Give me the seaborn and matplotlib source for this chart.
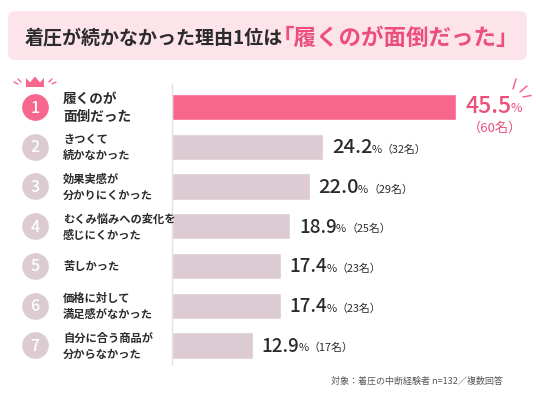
import matplotlib
matplotlib.use('Agg')
import matplotlib.pyplot as plt
import matplotlib.transforms as mtransforms
from matplotlib.patches import FancyBboxPatch, Polygon
from matplotlib.lines import Line2D
import seaborn as sns
import pandas as pd

# === DATA ===
RANKS = ['1', '2', '3', '4', '5', '6', '7']
REASONS = ['履くのが\n面倒だった', 'きつくて\n続かなかった', '効果実感が\n分かりにくかった',
           'むくみ悩みへの変化を\n感じにくかった', '苦しかった', '価格に対して\n満足感がなかった',
           '自分に合う商品が\n分からなかった']
PERCENT = [45.5, 24.2, 22.0, 18.9, 17.4, 17.4, 12.9]
COUNTS = [60, 32, 29, 25, 23, 23, 17]
TITLE_DARK = '着圧が続かなかった理由1位は'
TITLE_PINK = '「履くのが面倒だった」'
NOTE = '対象：着圧の中断経験者 n=132／複数回答'

PINK = '#f7668c'
PINK_TXT = '#ec4f7c'
MAUVE = '#dccbd2'
DARK = '#2b2b2b'

sns.set_style('white')
plt.rcParams['font.family'] = ['Noto Sans CJK JP', 'DejaVu Sans']

W, H = 536, 402
fig = plt.figure(figsize=(W / 100, H / 100), dpi=100)
fig.patch.set_facecolor('white')

# axes area in pixels: x 172..536, y 85..365
ax = fig.add_axes([172 / W, 1 - 365 / H, (W - 172) / W, 280 / H])
df = pd.DataFrame({'reason': REASONS, 'pct': PERCENT})
colors = [PINK] + [MAUVE] * (len(REASONS) - 1)
sns.barplot(data=df, y='reason', x='pct', hue='reason', palette=colors,
            legend=False, width=0.66, ax=ax, saturation=1, orient='h')
ax.set_xlim(0, (W - 172) / 6.25)
ax.set_ylim(6.468, -0.579)
ax.set_xlabel('')
ax.set_ylabel('')
ax.set_xticks([])
ax.set_yticks([])
for s in ['top', 'right', 'bottom']:
    ax.spines[s].set_visible(False)
ax.spines['left'].set_color('#e2e2e2')
ax.spines['left'].set_linewidth(1.0)
ax.patch.set_alpha(0)

# left side: rank circles + labels (x in pixels, y in data)
blend = mtransforms.blended_transform_factory(
    mtransforms.Affine2D().scale(1 / W, 1 / H) + fig.transFigure, ax.transData)
for i, (rk, rs) in enumerate(zip(RANKS, REASONS)):
    ax.scatter([35], [i], s=370, color=PINK if i == 0 else MAUVE,
               transform=blend, clip_on=False, zorder=5, linewidths=0)
    ax.text(35, i, rk, transform=blend, ha='center', va='center',
            color='white', fontsize=11.5, fontweight='medium', zorder=6)
    ax.text(63, i, rs, transform=blend, ha='left', va='center',
            color=DARK, fontsize=9.8 if i == 0 else 8.1, fontweight='bold',
            linespacing=1.3 if i == 0 else 1.35)

# value labels
for i, (p, c) in enumerate(zip(PERCENT, COUNTS)):
    if i == 0:
        t = ax.annotate(f'{p:.1f}', xy=(p, i), xytext=(9, 1.5),
                        textcoords='offset pixels', ha='left', va='center',
                        fontsize=16.5, color=PINK_TXT, fontweight='medium')
        ax.annotate('%', xy=(1, 0.13), xycoords=t, xytext=(-1, 0),
                    textcoords='offset pixels', ha='left', va='bottom',
                    fontsize=9, color=PINK_TXT)
        ax.annotate(f'（{c}名）', xy=(p, i), xytext=(39, -20),
                    textcoords='offset pixels', ha='center', va='center',
                    fontsize=9.5, color=PINK_TXT)
    else:
        t = ax.annotate(f'{p:.1f}', xy=(p, i), xytext=(9, 0),
                        textcoords='offset pixels', ha='left', va='center',
                        fontsize=14.5 if i < 3 else 13.5, color=DARK, fontweight='medium')
        t2 = ax.annotate('%', xy=(1, 0.13), xycoords=t, xytext=(-1, 0),
                         textcoords='offset pixels', ha='left', va='bottom',
                         fontsize=8, color=DARK)
        ax.annotate(f'（{c}名）', xy=(1, 0), xycoords=t2, xytext=(0, 0),
                    textcoords='offset pixels', ha='left', va='bottom',
                    fontsize=7.8, color=DARK)

# title box
pix = mtransforms.Affine2D().scale(1 / W, -1 / H).translate(0, 1) + fig.transFigure
box = FancyBboxPatch((8, 12), 519, 49, boxstyle='round,pad=0,rounding_size=7',
                     transform=pix, facecolor='#fce4ea', edgecolor='none')
fig.patches.append(box)
fig.text(25 / W, 1 - 38 / H, TITLE_DARK, ha='left', va='center',
         fontsize=13.7, fontweight='bold', color=DARK)
fig.text(272 / W, 1 - 38 / H, TITLE_PINK, ha='left', va='center',
         fontsize=16.2, fontweight='bold', color=PINK_TXT)

# crown above rank 1
crown = Polygon([(26, 88), (26, 79), (30, 83.5), (35, 77.5), (40, 83.5), (44, 79), (44, 88)],
                closed=True, transform=pix, facecolor=PINK, edgecolor='none')
fig.patches.append(crown)
for (x0, y0, x1, y1) in [(14, 83, 18, 85), (18, 80, 21, 83), (56, 83, 52, 85), (52, 80, 49, 83)]:
    fig.lines.append(Line2D([x0, x1], [y0, y1], transform=pix, color=PINK, lw=1.0))

# sparkles next to 45.5%
for (x0, y0, x1, y1) in [(513, 90, 516, 80), (520, 93, 527, 87), (523, 98, 531, 96.5)]:
    fig.lines.append(Line2D([x0, x1], [y0, y1], transform=pix, color=PINK, lw=1.1))

fig.text(503 / W, 1 - 381 / H, NOTE, ha='right', va='center', fontsize=6.5, color='#555555')

fig.savefig('out.png', dpi=100, facecolor='white')
